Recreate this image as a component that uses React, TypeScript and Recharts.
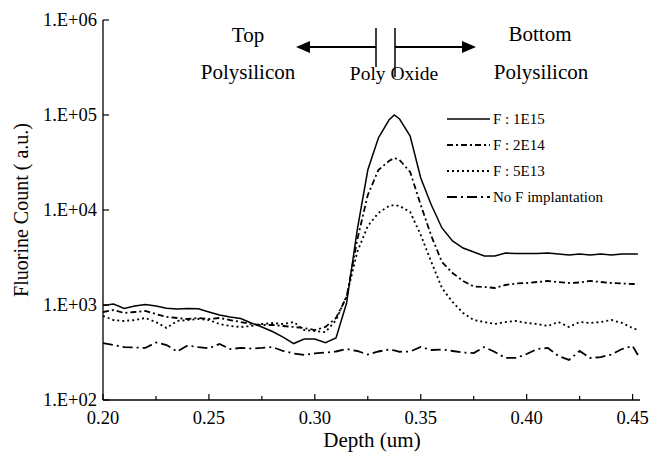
import React from 'react';
import { LineChart, Line, XAxis, YAxis } from 'recharts';

const depth = [0.200,0.205,0.210,0.215,0.220,0.225,0.230,0.235,0.240,0.245,0.250,0.255,0.260,0.265,0.270,0.275,0.280,0.285,0.290,0.295,0.300,0.305,0.310,0.315,0.320,0.325,0.330,0.335,0.3375,0.340,0.345,0.350,0.355,0.360,0.365,0.370,0.375,0.380,0.385,0.390,0.395,0.400,0.405,0.410,0.415,0.420,0.425,0.430,0.435,0.440,0.445,0.450,0.4525];

const f1e15 = [988,1025,918,976,1012,976,923,908,918,912,844,785,748,721,646,587,526,460,393,439,439,401,449,1050,6155,26360,57280,88560,100000,90750,60000,21730,11290,6470,4720,3980,3610,3280,3280,3525,3485,3485,3485,3525,3443,3360,3443,3360,3443,3360,3443,3443,3443];

const f2e14 = [844,886,824,844,865,804,748,730,712,730,712,730,695,662,631,616,616,601,587,572,545,587,730,1214,4833,14380,26360,32800,35270,33590,25120,11290,5325,2835,2173,1790,1566,1547,1510,1624,1683,1705,1746,1790,1746,1705,1726,1790,1746,1705,1683,1663,1663];

const f5e13 = [766,695,679,695,730,662,572,679,695,712,695,631,601,587,601,631,647,631,662,545,532,519,695,1244,3610,6790,9300,11020,11290,11020,9530,5457,2835,1510,1076,824,695,662,631,662,679,647,631,601,662,587,662,647,662,695,647,572,545];

const noF = [398,379,361,357,353,403,379,324,375,361,350,389,344,353,348,353,361,328,309,298,309,316,324,344,328,301,324,340,333,322,324,361,336,340,328,316,312,361,320,277,277,305,344,353,290,264,328,277,283,301,344,371,298];

const xTicks = [0.2,0.225,0.25,0.275,0.3,0.325,0.35,0.375,0.4,0.425,0.45];
const xLabelTicks = [0.2,0.25,0.3,0.35,0.4,0.45];
const yTicks = [1e2,1e3,1e4,1e5,1e6];
const seriesNames = ['F : 1E15','F : 2E14','F : 5E13','No F implantation'];
const seriesKeys = ['s1','s2','s3','s4'];
const dashes = ['', '6 3 2 3', '2 3', '10 4 2 4'];
const widths = [1.5, 1.8, 1.8, 1.8];

const FONT = '"Liberation Serif", "Times New Roman", Times, serif';

const data = depth.map((d, i) => ({ depth: d, s1: f1e15[i], s2: f2e14[i], s3: f5e13[i], s4: noF[i] }));

const XTick = (props: any) => {
  const { x, y, payload } = props;
  const v = payload.value;
  const major = xLabelTicks.some((t) => Math.abs(t - v) < 1e-6);
  return (
    <g>
      <line x1={x} x2={x} y1={y} y2={y - (major ? 6 : 4)} stroke="#000" strokeWidth={1.2} />
      {major && (
        <text x={x} y={y + 24} textAnchor="middle" fontSize={18.5} fontFamily={FONT} fill="#000">
          {v.toFixed(2)}
        </text>
      )}
    </g>
  );
};

const YTick = (props: any) => {
  const { x, y, payload } = props;
  const exp = Math.round(Math.log10(payload.value));
  const label = '1.E+' + (exp < 10 ? '0' + exp : String(exp));
  return (
    <g>
      <line x1={x} x2={x + 6} y1={y} y2={y} stroke="#000" strokeWidth={1.2} />
      <text x={x - 6} y={y + 6} textAnchor="end" fontSize={18.5} fontFamily={FONT} fill="#000">
        {label}
      </text>
    </g>
  );
};

export default function App() {
  return (
    <div style={{ position: 'absolute', left: 0, top: 0, width: 653, height: 455, background: '#fff' }}>
      <LineChart width={653} height={455} data={data} margin={{ top: 20, right: 13, bottom: 0, left: 0 }}>
        <XAxis
          dataKey="depth"
          type="number"
          domain={[0.2, 0.4535]}
          allowDataOverflow
          ticks={xTicks}
          interval={0}
          tick={<XTick />}
          tickLine={false}
          tickSize={0}
          tickMargin={0}
          height={55}
          axisLine={{ stroke: '#000', strokeWidth: 1.3 }}
        />
        <XAxis
          xAxisId="top"
          orientation="top"
          dataKey="depth"
          type="number"
          domain={[0.2, 0.4535]}
          tick={false}
          tickLine={false}
          height={0}
          axisLine={{ stroke: '#000', strokeWidth: 1.3 }}
        />
        <YAxis
          scale="log"
          type="number"
          domain={[100, 1000000]}
          allowDataOverflow
          ticks={yTicks}
          interval={0}
          tick={<YTick />}
          tickLine={false}
          tickSize={0}
          tickMargin={0}
          width={103}
          axisLine={{ stroke: '#000', strokeWidth: 1.3 }}
        />
        <YAxis
          yAxisId="right"
          orientation="right"
          type="number"
          domain={[0, 1]}
          tick={false}
          tickLine={false}
          width={0}
          axisLine={{ stroke: '#000', strokeWidth: 1.3 }}
        />
        {seriesKeys.map((k, i) => (
          <Line
            key={k}
            dataKey={k}
            name={seriesNames[i]}
            type="linear"
            stroke="#000"
            strokeWidth={widths[i]}
            strokeDasharray={dashes[i] || undefined}
            dot={false}
            activeDot={false}
            isAnimationActive={false}
          />
        ))}
      </LineChart>
      <svg
        width={653}
        height={455}
        style={{ position: 'absolute', left: 0, top: 0, pointerEvents: 'none' }}
        fontFamily={FONT}
      >
        <text x={248} y={42} textAnchor="middle" fontSize={21} fill="#000">Top</text>
        <text x={248} y={79} textAnchor="middle" fontSize={21} fill="#000">Polysilicon</text>
        <text x={540} y={41} textAnchor="middle" fontSize={21} fill="#000">Bottom</text>
        <text x={541} y={79} textAnchor="middle" fontSize={21} fill="#000">Polysilicon</text>
        <text x={394} y={80} textAnchor="middle" fontSize={19.5} fill="#000">Poly Oxide</text>
        <line x1={308} x2={376} y1={47} y2={47} stroke="#000" strokeWidth={2} />
        <polygon points="296,47 310,41 310,53" fill="#000" />
        <line x1={395} x2={463} y1={47} y2={47} stroke="#000" strokeWidth={2} />
        <polygon points="476,47 462,41 462,53" fill="#000" />
        <line x1={376} x2={376} y1={28} y2={67} stroke="#000" strokeWidth={1.5} />
        <line x1={395} x2={395} y1={28} y2={77} stroke="#000" strokeWidth={1.5} />
        {seriesNames.map((n, i) => (
          <g key={n}>
            <line
              x1={447}
              x2={490}
              y1={119 + i * 26}
              y2={119 + i * 26}
              stroke="#000"
              strokeWidth={widths[i]}
              strokeDasharray={dashes[i] || undefined}
            />
            <text x={493} y={124 + i * 26} fontSize={15} fill="#000">{n}</text>
          </g>
        ))}
        <text x={372} y={447} textAnchor="middle" fontSize={21} fill="#000">Depth (um)</text>
        <text transform="translate(28,210) rotate(-90)" textAnchor="middle" fontSize={20} fill="#000">
          Fluorine Count ( a.u.)
        </text>
      </svg>
    </div>
  );
}
